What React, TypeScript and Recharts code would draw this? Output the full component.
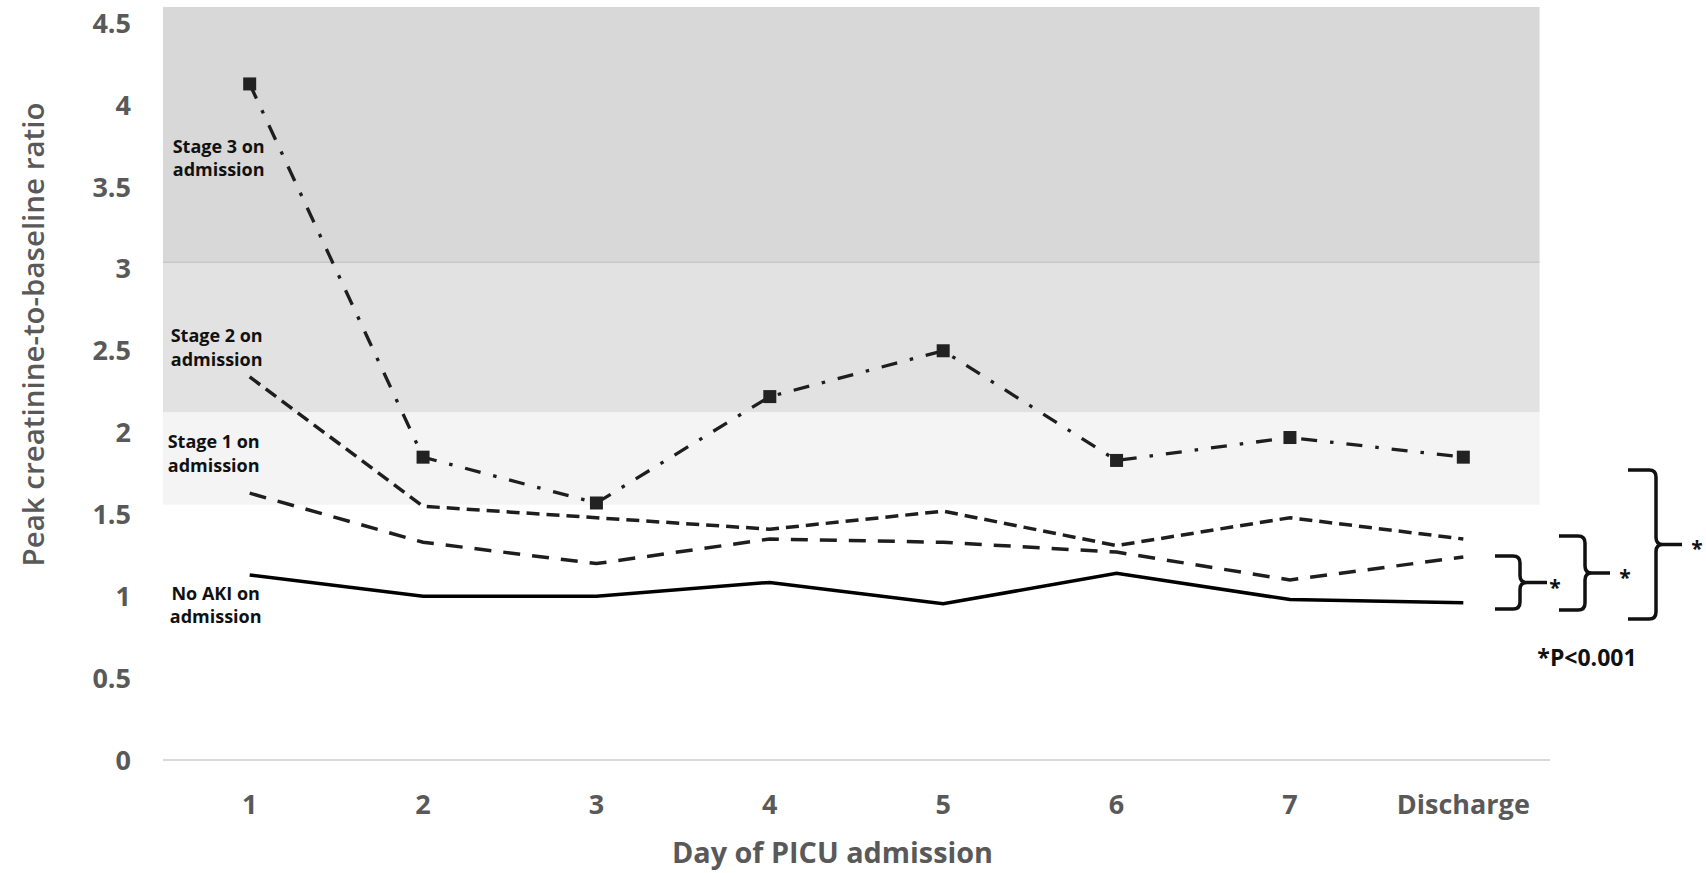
import React from 'react';
import {
  LineChart,
  Line,
  XAxis,
  YAxis,
  ReferenceArea,
  ReferenceLine,
  ReferenceDot,
} from 'recharts';

// ---------- data ----------
const categories = ['1', '2', '3', '4', '5', '6', '7', 'Discharge'];
const stage3 = [4.13, 1.85, 1.57, 2.22, 2.5, 1.83, 1.97, 1.85];
const stage2 = [2.34, 1.55, 1.48, 1.41, 1.52, 1.31, 1.48, 1.35];
const stage1 = [1.63, 1.33, 1.2, 1.35, 1.33, 1.27, 1.1, 1.24];
const noAki = [1.13, 1.0, 1.0, 1.085, 0.955, 1.14, 0.98, 0.96];
const yTicks = [0, 0.5, 1, 1.5, 2, 2.5, 3, 3.5, 4, 4.5];

// shaded bands (value ranges)
const bandLow = [1.56, 2.125, 3.04];
const bandHigh = [2.125, 3.04, 4.6];

// series labels (text)
const labelTexts = [
  ['Stage 3 on', 'admission'],
  ['Stage 2 on', 'admission'],
  ['Stage 1 on', 'admission'],
  ['No AKI on', 'admission'],
];
// bracket value spans (significance comparisons at discharge)
const bracketTop = [1.246, 1.368, 1.772];
const bracketBottom = [0.922, 0.916, 0.861];

// ---------- layout constants ----------
const W = 1706;
const H = 873;
const Y_MAX = 4.6;
const MARGIN = { top: 7, right: 156, bottom: 0, left: 0 };
const Y_AXIS_W = 163;
const X_AXIS_H = 113;
const PLOT_TOP = MARGIN.top;
const PLOT_H = H - MARGIN.top - MARGIN.bottom - X_AXIS_H;
const yPx = (v: number) => PLOT_TOP + ((Y_MAX - v) / Y_MAX) * PLOT_H;

const FONT = "'Open Sans', sans-serif";
const AXIS_GRAY = '#595959';
const LINE_COLOR = '#1e1e1e';

// annotation placement
const labelPlacement = [
  { y: 3.676, dx: -31 },
  { y: 2.52, dx: -33 },
  { y: 1.873, dx: -36 },
  { y: 0.948, dx: -34 },
];
const bracketX = [
  { xl: 1495, xv: 1520, xp: 1547, ax: 1555 },
  { xl: 1559, xv: 1585, xp: 1610, ax: 1625 },
  { xl: 1628, xv: 1656, xp: 1682, ax: 1697 },
];

const data = categories.map((c, i) => ({
  x: i + 1,
  day: c,
  stage3: stage3[i],
  stage2: stage2[i],
  stage1: stage1[i],
  noAki: noAki[i],
}));

const bandColors = ['#f4f4f4', '#e2e2e2', '#d8d8d8'];

function bracePath(xl: number, xv: number, xp: number, yt: number, yb: number) {
  const ym = (yt + yb) / 2;
  const r = 7;
  return [
    `M ${xl} ${yt}`,
    `L ${xv - r} ${yt}`,
    `Q ${xv} ${yt} ${xv} ${yt + r}`,
    `L ${xv} ${ym - r}`,
    `Q ${xv} ${ym} ${xv + r} ${ym}`,
    `L ${xp} ${ym}`,
    `M ${xv + r} ${ym}`,
    `Q ${xv} ${ym} ${xv} ${ym + r}`,
    `L ${xv} ${yb - r}`,
    `Q ${xv} ${yb} ${xv - r} ${yb}`,
    `L ${xl} ${yb}`,
  ].join(' ');
}

const StageLabel = (props: any) => {
  const { viewBox, lines, dx } = props;
  if (!viewBox) return null;
  const cx = viewBox.x + (viewBox.width || 0) / 2 + dx;
  const cy = viewBox.y + (viewBox.height || 0) / 2;
  return (
    <text
      textAnchor="middle"
      fontFamily={FONT}
      fontSize={18}
      fontWeight={700}
      fill="#111"
    >
      <tspan x={cx} y={cy - 11.7 + 6.5}>
        {lines[0]}
      </tspan>
      <tspan x={cx} y={cy + 11.7 + 6.5}>
        {lines[1]}
      </tspan>
    </text>
  );
};

const YTitle = (props: any) => {
  const { viewBox } = props;
  const x = viewBox.x + 44;
  const y = viewBox.y + viewBox.height / 2 - 49;
  return (
    <text
      x={x}
      y={y}
      transform={`rotate(-90 ${x} ${y})`}
      textAnchor="middle"
      fontFamily={FONT}
      fontSize={29.5}
      fontWeight={600}
      fill={AXIS_GRAY}
    >
      Peak creatinine-to-baseline ratio
    </text>
  );
};

const XTitle = (props: any) => {
  const { viewBox } = props;
  const x = viewBox.x + viewBox.width / 2 - 24;
  const y = viewBox.y + 103;
  return (
    <text
      x={x}
      y={y}
      textAnchor="middle"
      fontFamily={FONT}
      fontSize={28.8}
      fontWeight={700}
      fill={AXIS_GRAY}
    >
      Day of PICU admission
    </text>
  );
};

export default function App() {
  return (
    <div style={{ position: 'absolute', left: 0, top: 0, width: W, height: H, background: '#fff' }}>
      <LineChart width={W} height={H} data={data} margin={MARGIN}>
        {bandLow.map((lo, i) => (
          <ReferenceArea
            key={`band-${i}`}
            y1={lo}
            y2={bandHigh[i]}
            x2={8.44}
            fill={bandColors[i]}
            fillOpacity={1}
            stroke="none"
          />
        ))}
        <ReferenceLine
          segment={[
            { x: 0.5, y: bandLow[2] },
            { x: 8.44, y: bandLow[2] },
          ]}
          stroke="#c8c8c8"
          strokeWidth={1.5}
        />
        <XAxis
          dataKey="x"
          type="number"
          domain={[0.5, 8.5]}
          ticks={categories.map((_, i) => i + 1)}
          interval={0}
          tickFormatter={(v: number) => categories[v - 1]}
          height={X_AXIS_H}
          axisLine={{ stroke: '#d9d9d9', strokeWidth: 2 }}
          tickLine={false}
          tickSize={0}
          tickMargin={35}
          tick={{ fill: AXIS_GRAY, fontSize: 27, fontWeight: 700, fontFamily: FONT }}
          label={{ content: (p: any) => <XTitle {...p} /> }}
        />
        <YAxis
          type="number"
          domain={[0, Y_MAX]}
          ticks={yTicks}
          interval={0}
          width={Y_AXIS_W}
          axisLine={false}
          tickLine={false}
          tickSize={0}
          tickMargin={32}
          tick={{ fill: AXIS_GRAY, fontSize: 27, fontWeight: 700, fontFamily: FONT }}
          label={{ content: (p: any) => <YTitle {...p} /> }}
        />
        <Line
          dataKey="noAki"
          type="linear"
          stroke="#000"
          strokeWidth={3.5}
          dot={false}
          activeDot={false}
          isAnimationActive={false}
        />
        <Line
          dataKey="stage1"
          type="linear"
          stroke={LINE_COLOR}
          strokeWidth={3.5}
          strokeDasharray="17 12"
          dot={false}
          activeDot={false}
          isAnimationActive={false}
        />
        <Line
          dataKey="stage2"
          type="linear"
          stroke={LINE_COLOR}
          strokeWidth={3.5}
          strokeDasharray="13 7"
          dot={false}
          activeDot={false}
          isAnimationActive={false}
        />
        <Line
          dataKey="stage3"
          type="linear"
          stroke={LINE_COLOR}
          strokeWidth={3.3}
          strokeDasharray="16 13 3.5 13"
          dot={(p: any) =>
            p.cx == null || p.cy == null ? (
              <g key={`s3-${p.index}`} />
            ) : (
              <rect
                key={`s3-${p.index}`}
                x={p.cx - 6.5}
                y={p.cy - 6.5}
                width={13}
                height={13}
                fill="#222"
              />
            )
          }
          activeDot={false}
          isAnimationActive={false}
        />
        {labelTexts.map((lines, i) => (
          <ReferenceDot
            key={`lab-${i}`}
            x={1}
            y={labelPlacement[i].y}
            r={0}
            fill="none"
            stroke="none"
            ifOverflow="visible"
            label={{
              content: (p: any) => (
                <StageLabel {...p} lines={lines} dx={labelPlacement[i].dx} />
              ),
            }}
          />
        ))}
      </LineChart>
      <svg
        width={W}
        height={H}
        style={{ position: 'absolute', left: 0, top: 0, pointerEvents: 'none' }}
      >
        {bracketX.map((b, i) => {
          const yt = yPx(bracketTop[i]);
          const yb = yPx(bracketBottom[i]);
          const ym = (yt + yb) / 2;
          return (
            <g key={`br-${i}`}>
              <path
                d={bracePath(b.xl, b.xv, b.xp, yt, yb)}
                fill="none"
                stroke="#111"
                strokeWidth={3.5}
              />
              <text
                x={b.ax}
                y={ym + 12}
                textAnchor="middle"
                fontFamily={FONT}
                fontSize={21}
                fontWeight={700}
                fill="#111"
              >
                *
              </text>
            </g>
          );
        })}
        <text
          x={1587}
          y={666}
          textAnchor="middle"
          fontFamily={FONT}
          fontSize={23}
          fontWeight={700}
          fill="#111"
        >
          *P&lt;0.001
        </text>
      </svg>
    </div>
  );
}
